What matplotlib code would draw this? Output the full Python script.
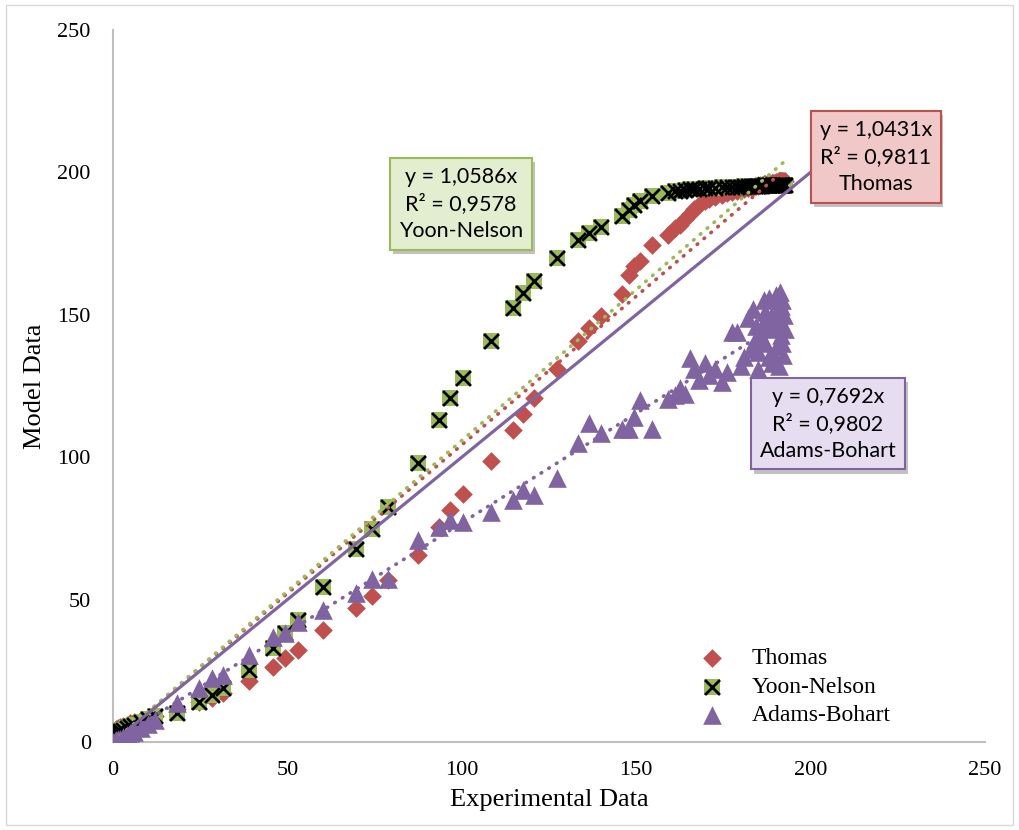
import matplotlib.pyplot as plt
import matplotlib.patheffects as pe
from matplotlib.patches import Rectangle
import numpy as np

plt.rcParams['font.family'] = ['Liberation Serif', 'DejaVu Serif']

# experimental data (shared x for all models)
exp_data = [0, 0.5, 1, 1.5, 2, 3, 4, 5, 6, 8, 10, 12,
            18.3, 24.7, 28.4, 31.5, 39, 45.8, 49.3, 53, 60.3, 69.7, 74.3, 78.8,
            87.5, 93.5, 96.6, 100.3, 108.4, 114.7, 117.5, 120.8, 127.3, 133.3,
            136.5, 139.8, 146, 147.8, 149.4, 151, 154.5, 159, 161, 162.6,
            164, 165.4, 166.5, 168, 169.7, 171, 172.5, 174.6, 176, 177.5, 179,
            180, 181, 182, 183, 184, 184.8, 185.5, 186.2, 187, 187.6, 188.2,
            188.8, 189.3, 189.8, 190.3, 190.7, 191, 191.3, 191.6, 191.9, 192.2,
            183.5, 185, 186.6, 188, 189, 190, 190.9, 191.8, 192.4, 192.6,
            184.4, 186.9, 189.6, 191.4]

thomas = [3.5, 4, 4.5, 4.8, 5.2, 5.6, 6.1, 6.6, 7, 7.6, 8.3, 9.2,
          11.5, 14, 15.5, 17.2, 21.4, 26.4, 29.5, 32.3, 39.3, 47, 51.3, 57,
          65.7, 75.5, 81.5, 87, 98.7, 109.6, 115, 120.8, 131, 140.8,
          145.4, 149.6, 157.3, 164, 167, 169, 174.5, 178, 180.5, 181.5,
          183.5, 185.5, 187, 188.5, 189.8, 190.7, 191.4, 192, 192.6, 193.1, 193.6,
          194, 194.3, 194.6, 194.9, 195.1, 195.3, 195.5, 195.7, 195.9, 196, 196.1,
          196.2, 196.3, 196.4, 196.5, 196.6, 196.7, 196.7, 196.8, 196.8, 196.9,
          195, 195.4, 195.8, 196.1, 196.3, 196.5, 196.7, 196.8, 196.9, 197,
          195.2, 195.9, 196.4, 196.7]

yoon_nelson = [2.5, 2.8, 3.1, 3.4, 3.7, 4.3, 4.9, 5.5, 6, 7, 8, 9,
               10.2, 14, 16.5, 19, 25.3, 33, 38.3, 42.8, 54.4, 67.8, 74.8, 82.5,
               98, 113, 120.8, 127.8, 140.8, 152.4, 157.6, 161.9, 170, 176.3,
               178.7, 180.8, 184.7, 186.8, 188.5, 190, 191.7, 192.8, 193.3, 193.6,
               193.8, 194, 194.1, 194.3, 194.4, 194.5, 194.6, 194.7, 194.8, 194.9, 195,
               195, 195.1, 195.1, 195.2, 195.2, 195.3, 195.3, 195.3, 195.4, 195.4, 195.4,
               195.5, 195.5, 195.5, 195.5, 195.6, 195.6, 195.6, 195.6, 195.6, 195.6,
               195.2, 195.3, 195.4, 195.4, 195.5, 195.5, 195.6, 195.6, 195.6, 195.6,
               195.3, 195.4, 195.5, 195.6]

adams_bohart = [0, 0.3, 0.6, 0.9, 1.2, 1.8, 2.5, 3, 3.5, 5, 6.5, 7.7,
                13.7, 19, 22.5, 23.5, 30.5, 37, 38.3, 42, 46.3, 52.3, 57.2, 57.2,
                71, 75.5, 78, 77.2, 80.8, 85, 88.5, 86.7, 92.7, 105,
                112, 108.5, 110, 110, 114, 120, 110, 120.4, 121.8, 124.3,
                122, 134.8, 131, 127, 133, 128.9, 131, 126.4, 130, 144, 144,
                132, 135, 149, 138, 141, 137, 143, 146, 140, 148, 135,
                150, 145, 152, 139, 154, 147, 158, 143, 155, 136,
                152, 131, 155, 156, 133, 157, 132, 140, 150, 145,
                146, 151, 135, 153]

# trendline slopes and labels
slopes = {'Thomas': 1.0431, 'Yoon-Nelson': 1.0586, 'Adams-Bohart': 0.7692}
r2 = {'Thomas': '0,9811', 'Yoon-Nelson': '0,9578', 'Adams-Bohart': '0,9802'}

red = '#C0504D'
green = '#9BBB59'
purple = '#8064A2'

fig = plt.figure(figsize=(10.19, 8.3), dpi=100)
ax = fig.add_axes([0.1109, 0.106, 0.8557, 0.858])

x = np.array(exp_data)

h_th = ax.scatter(x, thomas, marker='D', s=90, color=red, linewidths=0, zorder=3)
h_sq = ax.scatter(x, yoon_nelson, marker='s', s=140, color=green, linewidths=0, zorder=3)
h_x = ax.scatter(x, yoon_nelson, marker='x', s=115, color='black', linewidths=2, zorder=3)
h_ab = ax.scatter(x, adams_bohart, marker='^', s=180, color=purple, linewidths=0, zorder=3)

# trendlines
xt = np.array([0, x.max()])
dot = dict(lw=2.6, linestyle=(0, (0.2, 2.3)), dash_capstyle='round', zorder=4)
ax.plot(xt, slopes['Thomas'] * xt, color=red, **dot)
ax.plot(xt, slopes['Yoon-Nelson'] * xt, color=green, **dot)
ax.plot(xt, slopes['Adams-Bohart'] * xt, color=purple, **dot)

# 1:1 line
ax.plot([0, 200], [0, 200], color=purple, lw=2.3, zorder=4)

ax.set_xlim(0, 250)
ax.set_ylim(0, 250)
ax.set_xticks([0, 50, 100, 150, 200, 250])
ax.set_yticks([0, 50, 100, 150, 200, 250])
ax.tick_params(length=0, labelsize=16)
ax.tick_params(axis='x', pad=14)
ax.tick_params(axis='y', pad=16)
for s in ['top', 'right']:
    ax.spines[s].set_visible(False)
for s in ['left', 'bottom']:
    ax.spines[s].set_color('#BFBFBF')
    ax.spines[s].set_linewidth(1.5)
ax.set_xlabel('Experimental Data', fontsize=19, labelpad=6)
ax.set_ylabel('Model Data', fontsize=19, labelpad=8)

leg = ax.legend([h_th, (h_sq, h_x), h_ab], ['Thomas', 'Yoon-Nelson', 'Adams-Bohart'],
                loc='lower left', bbox_to_anchor=(0.635, -0.008), frameon=False,
                fontsize=17, handletextpad=0.7, labelspacing=0.3)

# equation boxes
shadow = [pe.withSimplePatchShadow(offset=(2, -3), shadow_rgbFace='#999999', alpha=0.6)]
boxes = [('Yoon-Nelson', 99.8, 188.9, '#E3EDCF', green),
         ('Thomas', 218.7, 205.4, '#F0C8C7', red),
         ('Adams-Bohart', 205.0, 111.7, '#E6DEF0', purple)]
for name, bx, by, fc, ec in boxes:
    txt = 'y = ' + ('%.4f' % slopes[name]).replace('.', ',') + 'x\nR² = ' + r2[name] + '\n' + name
    t = ax.text(bx, by, txt, ha='center', va='center', fontsize=15.5, family=['Lato', 'DejaVu Sans'],
                linespacing=1.4, zorder=6,
                bbox=dict(boxstyle='square,pad=0.4', facecolor=fc, edgecolor=ec, lw=1.5))
    t.get_bbox_patch().set_path_effects(shadow)

fig.patches.append(Rectangle((0.006, 0.006), 0.988, 0.988, transform=fig.transFigure,
                             fill=False, edgecolor='#D9D9D9', lw=1))

fig.savefig('out.png', dpi=100)
